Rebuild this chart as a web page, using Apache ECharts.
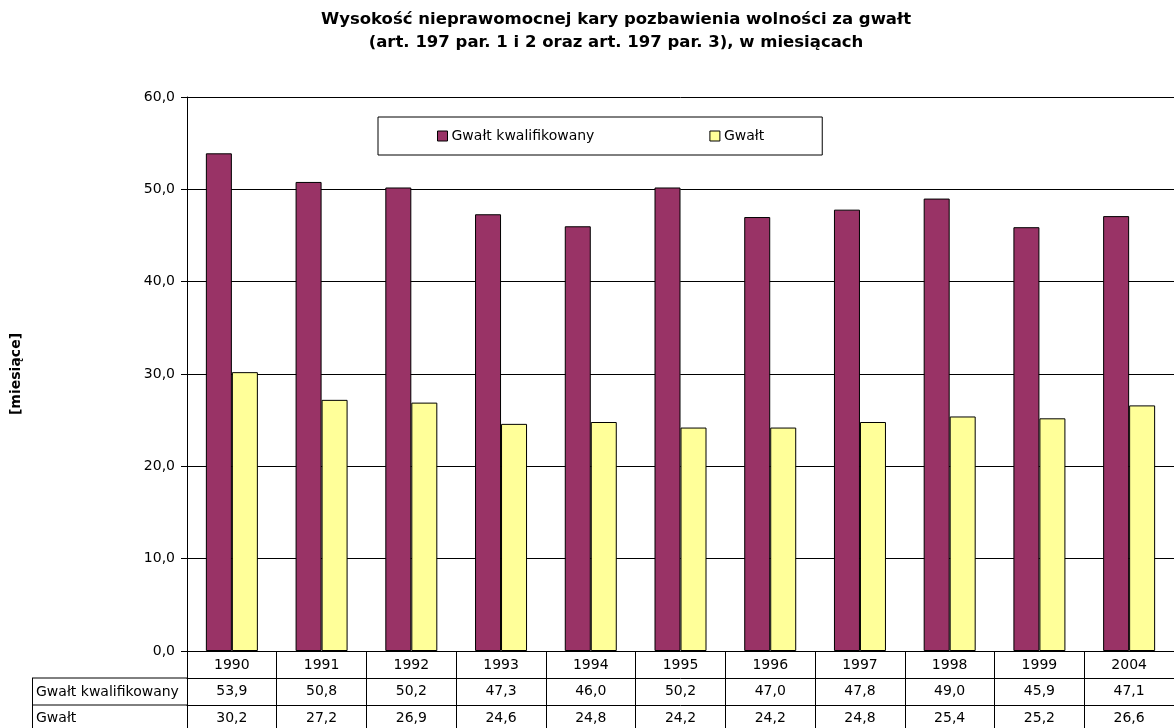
<!DOCTYPE html>
<html>
<head>
<meta charset="utf-8">
<script src="https://cdn.jsdelivr.net/npm/echarts@6/dist/echarts.min.js"></script>
<style>
  html, body { margin: 0; padding: 0; background: #fff; }
  #chart { width: 1174px; height: 728px; }
</style>
</head>
<body>
<div id="chart"></div>
<script>
// data
var years = ['1990', '1991', '1992', '1993', '1994', '1995', '1996', '1997', '1998', '1999', '2004'];
var kwalifikowany = [53.9, 50.8, 50.2, 47.3, 46.0, 50.2, 47.0, 47.8, 49.0, 45.9, 47.1];
var gwalt = [30.2, 27.2, 26.9, 24.6, 24.8, 24.2, 24.2, 24.8, 25.4, 25.2, 26.6];
var seriesNames = ['Gwałt kwalifikowany', 'Gwałt'];

var FONT = '"DejaVu Sans", "Liberation Sans", Arial, sans-serif';

function fmt(v) {
    return v.toFixed(1).replace('.', ',');
}

// extra x axes used as rows of the data table
function tableAxis(values, offset) {
    return {
        type: 'category',
        data: years,
        position: 'bottom',
        offset: offset,
        axisLine: { show: true, lineStyle: { color: '#000', width: 1 } },
        axisTick: { show: false },
        axisLabel: {
            interval: 0,
            margin: 6,
            fontFamily: FONT,
            fontSize: 14,
            color: '#000',
            formatter: function (v, i) { return fmt(values[i]); }
        }
    };
}

var chart = echarts.init(document.getElementById('chart'));

chart.setOption({
    animation: false,
    textStyle: { fontFamily: FONT },
    title: {
        text: 'Wysokość nieprawomocnej kary pozbawienia wolności za gwałt\n(art. 197 par. 1 i 2 oraz art. 197 par. 3), w miesiącach',
        left: 611,
        top: 3,
        textAlign: 'center',
        textStyle: { fontFamily: FONT, fontSize: 16.5, fontWeight: 'bold', color: '#000', lineHeight: 23 }
    },
    legend: {
        data: seriesNames,
        left: 378,
        top: 117,
        padding: [12, 58, 12, 59],
        itemGap: 115,
        itemWidth: 10,
        itemHeight: 10,
        borderColor: '#000',
        borderWidth: 1,
        icon: 'rect',
        itemStyle: { borderColor: '#000', borderWidth: 1 },
        textStyle: { fontFamily: FONT, fontSize: 14, color: '#000', padding: [0, 0, 0, -1] }
    },
    grid: { left: 187, top: 97, width: 1006, height: 554, containLabel: false },
    xAxis: [
        {
            type: 'category',
            data: years,
            position: 'bottom',
            axisLine: { show: true, lineStyle: { color: '#000', width: 1 } },
            axisTick: { show: true, interval: 0, length: 79, lineStyle: { color: '#000', width: 1 } },
            axisLabel: { interval: 0, margin: 7, fontFamily: FONT, fontSize: 14, color: '#000' }
        },
        tableAxis(kwalifikowany, 27),
        tableAxis(gwalt, 54)
    ],
    yAxis: {
        type: 'value',
        min: 0,
        max: 60,
        interval: 10,
        name: '[miesiące]',
        nameLocation: 'middle',
        nameRotate: 90,
        nameGap: 164,
        nameTextStyle: { fontFamily: FONT, fontSize: 14, fontWeight: 'bold', color: '#000' },
        axisLine: { show: true, lineStyle: { color: '#000', width: 1 } },
        axisTick: { show: true, length: 6, lineStyle: { color: '#000' } },
        axisLabel: {
            margin: 12,
            fontFamily: FONT,
            fontSize: 14,
            color: '#000',
            formatter: function (v) { return fmt(v); }
        },
        splitLine: { show: true, lineStyle: { color: '#000', width: 1 } }
    },
    series: [
        {
            name: seriesNames[0],
            type: 'bar',
            data: kwalifikowany,
            barWidth: 26,
            barGap: '0%',
            itemStyle: { color: '#993366', borderColor: '#000', borderWidth: 1 }
        },
        {
            name: seriesNames[1],
            type: 'bar',
            data: gwalt,
            barWidth: 26,
            barGap: '0%',
            itemStyle: { color: '#FFFF99', borderColor: '#000', borderWidth: 1 }
        }
    ],
    graphic: [
        // row header cells of the data table
        { type: 'line', shape: { x1: 32, y1: 678, x2: 187, y2: 678 }, style: { stroke: '#000', lineWidth: 1 } },
        { type: 'line', shape: { x1: 32, y1: 705, x2: 187, y2: 705 }, style: { stroke: '#000', lineWidth: 1 } },
        { type: 'line', shape: { x1: 32.5, y1: 678, x2: 32.5, y2: 730 }, style: { stroke: '#000', lineWidth: 1 } },
        { type: 'text', x: 36, y: 692, style: { text: seriesNames[0], fontFamily: FONT, fontSize: 14, fill: '#000', verticalAlign: 'middle' } },
        { type: 'text', x: 36, y: 718, style: { text: seriesNames[1], fontFamily: FONT, fontSize: 14, fill: '#000', verticalAlign: 'middle' } }
    ]
});
</script>
</body>
</html>
